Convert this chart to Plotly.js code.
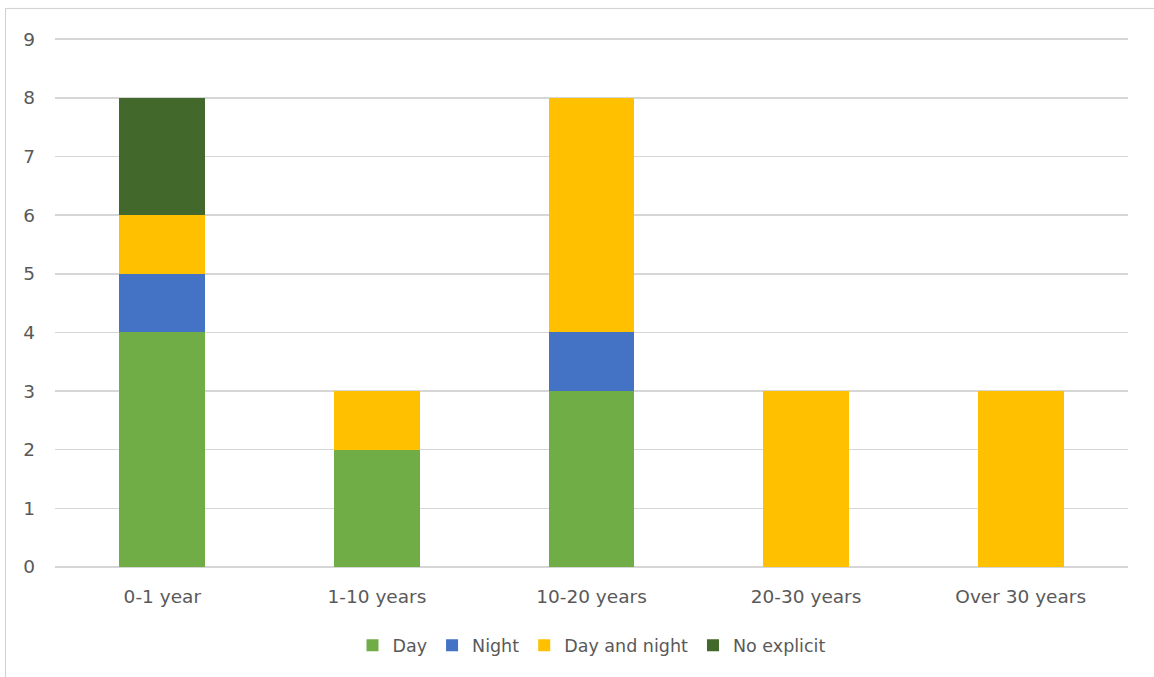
<!DOCTYPE html>
<html>
<head>
<meta charset="utf-8">
<script src="https://cdn.plot.ly/plotly-3.0.1.min.js"></script>
<style>html,body{margin:0;padding:0;background:#fff;}#chart{width:1154px;height:677px;}</style>
</head>
<body>
<div id="chart"></div>
<script>
const categories = ["0-1 year", "1-10 years", "10-20 years", "20-30 years", "Over 30 years"];
const dayValues = [4, 2, 3, 0, 0];
const nightValues = [1, 0, 1, 0, 0];
const dayAndNightValues = [1, 1, 4, 3, 3];
const noExplicitValues = [2, 0, 0, 0, 0];
const yTicks = [0, 1, 2, 3, 4, 5, 6, 7, 8, 9];

const font = {family: "DejaVu Sans, Verdana, sans-serif", size: 18.5, color: "#595959"};
const legendFont = {family: "DejaVu Sans, Verdana, sans-serif", size: 17.5, color: "#595959"};

const traces = [
  {name: "Day", y: dayValues, color: "#70AD47"},
  {name: "Night", y: nightValues, color: "#4472C4"},
  {name: "Day and night", y: dayAndNightValues, color: "#FFC000"},
  {name: "No explicit", y: noExplicitValues, color: "#43682B"}
].map(s => ({
  type: "bar", name: s.name, x: categories, y: s.y,
  marker: {color: s.color, line: {width: 0}},
  hoverinfo: "x+y+name"
}));

const layout = {
  width: 1154, height: 677,
  margin: {l: 55, r: 26, t: 38, b: 110},
  barmode: "stack",
  bargap: 0.6,
  paper_bgcolor: "#ffffff",
  plot_bgcolor: "#ffffff",
  font: font,
  showlegend: true,
  legend: {orientation: "h", x: 0.5, xanchor: "center", y: -0.148, yanchor: "middle",
           font: legendFont, itemwidth: 30, traceorder: "normal"},
  xaxis: {
    type: "category", showgrid: false, zeroline: false,
    showline: false, ticks: "", tickfont: font, ticklabelstandoff: 16
  },
  yaxis: {
    range: [0, 9.02], tickvals: yTicks, ticktext: yTicks.map(String),
    showgrid: true, gridcolor: "#d6d6d6", gridwidth: 1.5,
    zeroline: true, zerolinecolor: "#d6d6d6", zerolinewidth: 1.5,
    showline: false, ticks: "", tickfont: font, ticklabelstandoff: 19
  },
  shapes: [{
    type: "rect", xref: "paper", yref: "paper",
    x0: -0.0461, x1: 1.2, y0: -0.4, y1: 1.0559,
    line: {color: "#d0d0d0", width: 1}, fillcolor: "rgba(0,0,0,0)", layer: "below"
  }]
};

Plotly.newPlot("chart", traces, layout, {displayModeBar: false, staticPlot: true});
</script>
</body>
</html>
